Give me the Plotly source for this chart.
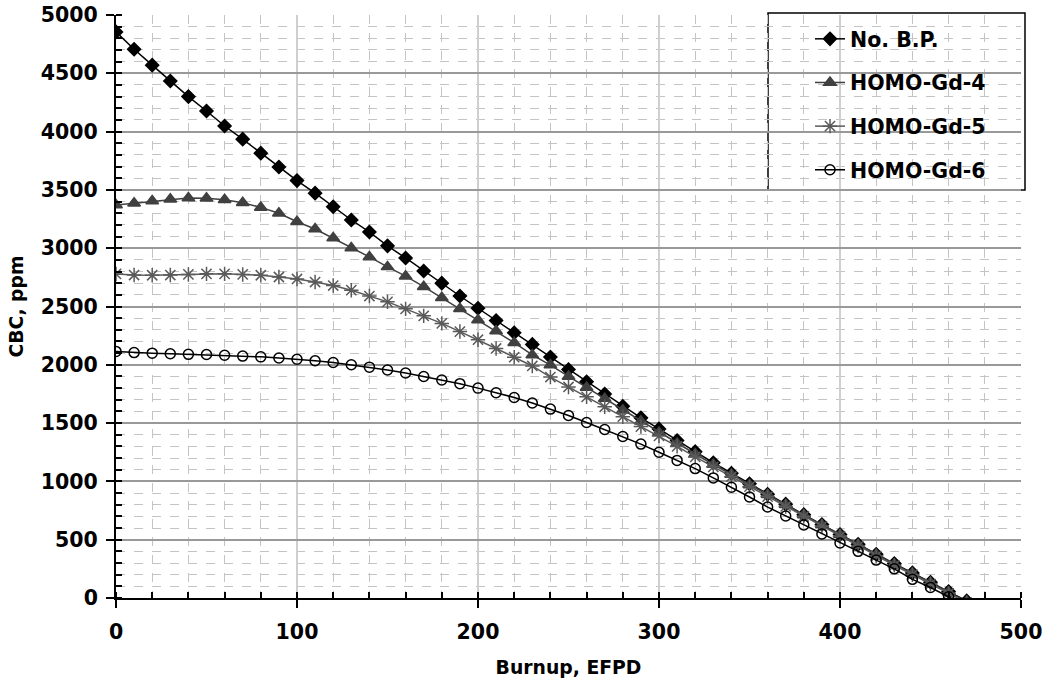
import plotly.graph_objects as go

burnup = list(range(0, 480, 10))

no_bp = [4855, 4706, 4570, 4434, 4300, 4177, 4048, 3935, 3815, 3696,
         3580, 3472, 3355, 3242, 3139, 3020, 2916, 2805, 2700, 2590,
         2485, 2380, 2275, 2175, 2067, 1960, 1855, 1750, 1645, 1545,
         1450, 1350, 1255, 1160, 1070, 980, 890, 805, 715, 630,
         545, 460, 375, 295, 215, 135, 55, -25]

gd4 = [3370, 3385, 3405, 3420, 3430, 3428, 3415, 3390, 3350, 3300,
       3227, 3165, 3087, 3002, 2925, 2840, 2760, 2670, 2575, 2480,
       2385, 2290, 2190, 2085, 1998, 1900, 1805, 1710, 1610, 1515,
       1420, 1325, 1235, 1145, 1060, 970, 885, 800, 712, 627,
       542, 457, 372, 290, 210, 130, 50, -30]

gd5 = [2779, 2770, 2768, 2770, 2775, 2780, 2780, 2775, 2768, 2753,
       2736, 2710, 2680, 2640, 2590, 2540, 2480, 2420, 2355, 2285,
       2215, 2140, 2065, 1990, 1895, 1810, 1725, 1640, 1555, 1470,
       1390, 1300, 1210, 1125, 1040, 955, 870, 785, 700, 615,
       530, 445, 360, 280, 200, 120, 40, -40]

gd6 = [2115, 2105, 2100, 2095, 2090, 2088, 2082, 2075, 2068, 2058,
       2048, 2035, 2020, 2000, 1980, 1955, 1930, 1900, 1870, 1838,
       1800, 1760, 1720, 1672, 1620, 1565, 1505, 1445, 1385, 1320,
       1250, 1180, 1110, 1030, 950, 866, 780, 703, 626, 549,
       472, 400, 325, 250, 160, 90, 10, -70]

names = ["No. B.P.", "HOMO-Gd-4", "HOMO-Gd-5", "HOMO-Gd-6"]
series = [no_bp, gd4, gd5, gd6]
colors = ["#000000", "#404040", "#5a5a5a", "#000000"]
symbols = ["diamond", "triangle-up", "asterisk-open", "circle-open"]
sizes = [10, 11, 12, 10]

FONT = "DejaVu Sans"

fig = go.Figure()
for name, ys, c, s, sz in zip(names, series, colors, symbols, sizes):
    fig.add_trace(go.Scatter(
        x=burnup, y=ys, name=name, mode="lines+markers", legendgroup=name,
        line=dict(color=c, width=1.5),
        marker=dict(symbol=s, size=sz, color=c, line=dict(color=c, width=1.5)),
    ))

axis_common = dict(
    showline=True, linecolor="black", linewidth=2,
    ticks="outside", ticklen=8, tickcolor="black", tickwidth=1.5,
    zeroline=False, automargin=False,
    tickfont=dict(family=FONT, size=20.5, color="black", weight="bold"),
)

fig.update_xaxes(
    range=[0, 500], dtick=100, tick0=0,
    showgrid=True, gridcolor="#cfcfcf", gridwidth=1.5,
    minor=dict(dtick=20, ticks="inside", ticklen=6, tickcolor="black",
               showgrid=True, gridcolor="#c4c4c4", griddash="dash", gridwidth=1),
    ticklabelstandoff=6,
    title=dict(text="Burnup, EFPD", font=dict(family=FONT, size=18.8, color="black", weight="bold"),
               standoff=18),
    **axis_common,
)
fig.update_yaxes(
    range=[0, 5000], dtick=500, tick0=0,
    showgrid=True, gridcolor="#999999", gridwidth=1.5,
    minor=dict(dtick=100, ticks="inside", ticklen=6, tickcolor="black",
               showgrid=True, gridcolor="#c4c4c4", griddash="dash", gridwidth=1),
    ticklabelstandoff=4,
    title=dict(text="CBC, ppm", font=dict(family=FONT, size=18.8, color="black", weight="bold"),
               standoff=12),
    **axis_common,
)

fig.add_shape(type="rect", xref="paper", yref="paper",
              x0=(768 - 116) / 905, x1=(1025 - 116) / 905,
              y0=(598 - 190) / 583, y1=(598 - 13) / 583,
              line=dict(color="black", width=1.5), fillcolor="white", layer="below")

fig.update_layout(
    width=1045, height=685,
    margin=dict(l=116, r=24, t=15, b=87, autoexpand=False),
    plot_bgcolor="white", paper_bgcolor="white",
    font=dict(family=FONT, size=20.5, color="black", weight="bold"),
    legend=dict(
        x=(810 - 116) / 905, y=(598 - 19) / 583, xanchor="left", yanchor="top",
        bgcolor="rgba(0,0,0,0)", borderwidth=0,
        font=dict(family=FONT, size=20.5, color="black", weight="bold"),
        traceorder="grouped", tracegroupgap=14, itemwidth=30,
    ),
    showlegend=True,
)

fig.write_html("out.html")
